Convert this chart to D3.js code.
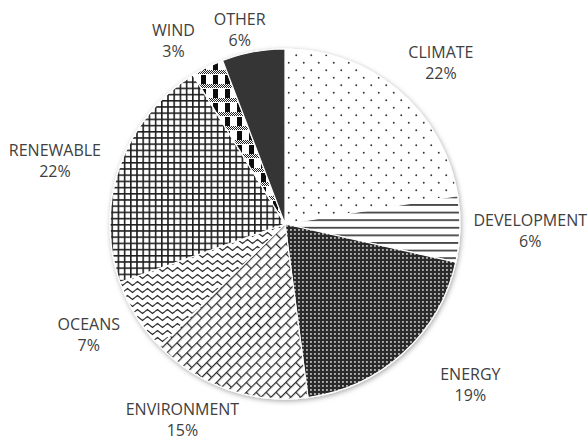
<!DOCTYPE html>
<html>
<head>
<meta charset="utf-8">
<script src="https://cdn.jsdelivr.net/npm/d3@7"></script>
<style>
  body { margin: 0; background: #fff; }
  text { font-family: "Open Sans", sans-serif; font-size: 16px; fill: #404040; }
</style>
</head>
<body>
<div id="chart-area"></div>
<script>
const categories = ["CLIMATE", "DEVELOPMENT", "ENERGY", "ENVIRONMENT", "OCEANS", "RENEWABLE", "WIND", "OTHER"];
const shares = [22.4, 6.1, 19.4, 14.8, 6.9, 21.6, 3.0, 5.8];
const patterns = ["climate", "development", "energy", "environment", "oceans", "renewable", "wind", "other"];

// label layout tweaks: [turn in degrees, extra distance in px]
const labelTweak = [[3.8, 0], [0, 0], [-6.6, 22], [8, 0], [2.5, 0], [-4, 0], [-5, 0], [-2, 0]];

const width = 588, height = 441;
const cx = 285, cy = 224, radius = 175;

const svg = d3.select("#chart-area").append("svg")
    .attr("width", width)
    .attr("height", height);

const defs = svg.append("defs");

// soft shadow round the pie
const shadow = defs.append("filter").attr("id", "shadow")
    .attr("x", "-10%").attr("y", "-10%").attr("width", "120%").attr("height", "120%");
shadow.append("feDropShadow")
    .attr("dx", 1).attr("dy", 1.5).attr("stdDeviation", 2.5)
    .attr("flood-color", "#000").attr("flood-opacity", 0.35);

function pattern(id, w, h, bg) {
  const p = defs.append("pattern").attr("id", id)
      .attr("patternUnits", "userSpaceOnUse")
      .attr("width", w).attr("height", h);
  p.append("rect").attr("width", w).attr("height", h).attr("fill", bg);
  return p;
}

// sparse staggered dots
let p = pattern("climate", 15, 15, "#fff");
p.append("circle").attr("cx", 3.75).attr("cy", 3.75).attr("r", 0.95).attr("fill", "#333");
p.append("circle").attr("cx", 11.25).attr("cy", 11.25).attr("r", 0.95).attr("fill", "#333");

// horizontal lines
p = pattern("development", 10, 7.6, "#fff");
p.append("rect").attr("y", 3).attr("width", 10).attr("height", 1.5).attr("fill", "#222");

// dark with white dots
p = pattern("energy", 4, 4, "#2b2b2b");
p.append("rect").attr("x", 1.2).attr("y", 1.2).attr("width", 1.5).attr("height", 1.5).attr("fill", "#fff");

// diagonal bricks
p = pattern("environment", 14, 14, "#fff").attr("patternTransform", "rotate(-45)");
p.append("path")
    .attr("d", "M0,0.6H14M0,7.6H14M0.6,0V7.6M7.6,7.6V14")
    .attr("stroke", "#2b2b2b").attr("stroke-width", 1.2).attr("fill", "none");

// waves
p = pattern("oceans", 10, 7, "#fff");
p.append("path")
    .attr("d", "M0,3.5L2.5,1.5L5,3.5L7.5,5.5L10,3.5")
    .attr("stroke", "#2b2b2b").attr("stroke-width", 1.2).attr("fill", "none");

// grid
p = pattern("renewable", 6.2, 6.2, "#fff");
p.append("path")
    .attr("d", "M0,0.8H6.2M0.8,0V6.2")
    .attr("stroke", "#1e1e1e").attr("stroke-width", 1.6).attr("fill", "none");

// small checker used inside the plaid
p = pattern("checker", 2, 2, "#fff");
p.append("rect").attr("width", 1).attr("height", 1).attr("fill", "#222");
p.append("rect").attr("x", 1).attr("y", 1).attr("width", 1).attr("height", 1).attr("fill", "#222");

// plaid
p = pattern("wind", 12, 14, "#fff");
p.append("rect").attr("x", 0).attr("y", 5).attr("width", 5).attr("height", 9).attr("fill", "#111");
p.append("rect").attr("x", 0).attr("y", 0).attr("width", 12).attr("height", 4).attr("fill", "url(#checker)");

// solid
pattern("other", 4, 4, "#363636");

const pie = d3.pie().sort(null).value(d => d);
const arcs = pie(shares);
const total = d3.sum(shares);
const pct = d3.format(".0%");

const arc = d3.arc().innerRadius(0).outerRadius(radius);

const g = svg.append("g").attr("transform", `translate(${cx},${cy})`);

g.append("g").attr("filter", "url(#shadow)")
  .selectAll("path")
  .data(arcs)
  .enter().append("path")
    .attr("d", arc)
    .attr("fill", (d, i) => `url(#${patterns[i]})`)
    .attr("stroke", "#fff")
    .attr("stroke-width", 1.2)
    .attr("stroke-linejoin", "round");

// labels: box pushed out along the slice direction until its nearest point
// is labelGap px from the centre, then kept inside the picture
const labelGap = 190, lineGap = 21, hh = 16.25;
const labels = g.selectAll("g.label")
  .data(arcs)
  .enter().append("g")
    .attr("class", "label");

labels.append("text")
    .attr("text-anchor", "middle")
    .attr("y", -hh + 11.5)
    .text((d, i) => categories[i]);
labels.append("text")
    .attr("text-anchor", "middle")
    .attr("y", -hh + 11.5 + lineGap)
    .text(d => pct(d.value / total));

function nearest(x, y, hw) {
  const nx = Math.max(Math.abs(x) - hw, 0), ny = Math.max(Math.abs(y) - hh, 0);
  return Math.hypot(nx, ny);
}

labels.attr("transform", function (d, i) {
  const a = (d.startAngle + d.endAngle) / 2 + labelTweak[i][0] * Math.PI / 180;
  const sx = Math.sin(a), sy = -Math.cos(a);
  const w = d3.max(d3.select(this).selectAll("text").nodes(), n => n.getComputedTextLength());
  const hw = w / 2;
  const R = labelGap + labelTweak[i][1];
  let lo = 0, hi = 600;
  for (let k = 0; k < 40; k++) {
    const t = (lo + hi) / 2;
    if (nearest(sx * t, sy * t, hw) < R) lo = t; else hi = t;
  }
  let x = sx * lo, y = sy * lo;
  y = Math.max(y, 13 - cy + hh);
  y = Math.min(y, height - 5 - cy - hh);
  x = Math.max(Math.min(x, width - 1 - cx - hw), -cx + 1 + hw);
  return `translate(${x},${y})`;
});
</script>
</body>
</html>
